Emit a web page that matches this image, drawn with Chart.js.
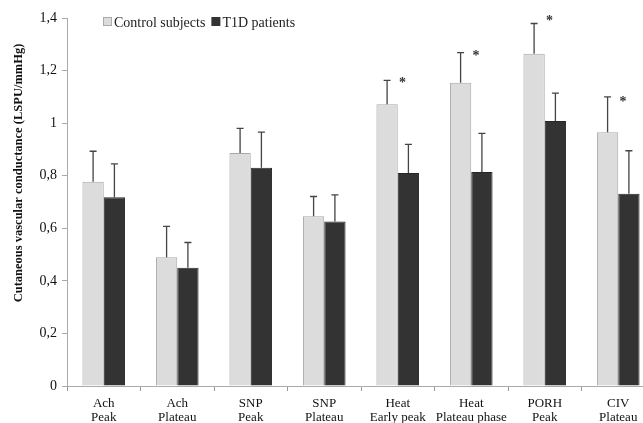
<!DOCTYPE html>
<html>
<head>
<meta charset="utf-8">
<script src="https://cdn.jsdelivr.net/npm/chart.js@4.4.1/dist/chart.umd.min.js"></script>
<style>
body{margin:0;overflow:hidden;background:#fff;}
#caja{width:655px;height:423px;}
</style>
</head>
<body>
<div id="caja"><canvas id="chart" width="655" height="423"></canvas></div>
<script>
var categorias = [["Ach","Peak"],["Ach","Plateau"],["SNP","Peak"],["SNP","Plateau"],["Heat","Early peak"],["Heat","Plateau phase"],["PORH","Peak"],["CIV","Plateau"]];
var control = [0.777, 0.49, 0.886, 0.646, 1.072, 1.154, 1.264, 0.965];
var controlSD = [0.116, 0.117, 0.094, 0.075, 0.091, 0.114, 0.115, 0.135];
var t1d = [0.718, 0.45, 0.83, 0.626, 0.81, 0.814, 1.008, 0.731];
var t1dSD = [0.127, 0.096, 0.136, 0.101, 0.109, 0.147, 0.106, 0.164];
var estrella = [null, null, null, null, 1.168, 1.268, 1.404, 1.094];
var yTicks = [0, 0.2, 0.4, 0.6, 0.8, 1, 1.2, 1.4];
var tituloY = 'Cutaneous vascular conductance (LSPU/mmHg)';

var fuente = "'Liberation Serif', 'Times New Roman', serif";

var pluginExtra = {
	id: 'extra',
	afterDatasetsDraw: function(chart){
		var ctx = chart.ctx;
		var y = chart.scales.y;
		var series = [[control, controlSD], [t1d, t1dSD]];
		ctx.save();
		ctx.strokeStyle = '#444';
		ctx.lineWidth = 1.3;
		for (var s = 0; s < 2; s++) {
			var meta = chart.getDatasetMeta(s);
			for (var i = 0; i < meta.data.length; i++) {
				var bar = meta.data[i];
				var top = y.getPixelForValue(series[s][0][i] + series[s][1][i]);
				ctx.beginPath();
				ctx.moveTo(bar.x, bar.y);
				ctx.lineTo(bar.x, top);
				ctx.moveTo(bar.x - 3.5, top);
				ctx.lineTo(bar.x + 3.5, top);
				ctx.stroke();
			}
		}
		// asteriscos
		ctx.fillStyle = '#333';
		ctx.font = "bold 14px " + fuente;
		ctx.textAlign = 'center';
		ctx.textBaseline = 'middle';
		var meta2 = chart.getDatasetMeta(1);
		for (var k = 0; k < estrella.length; k++) {
			if (estrella[k] == null) continue;
			ctx.fillText('*', meta2.data[k].x - 6, y.getPixelForValue(estrella[k]) + 4);
		}
		// leyenda
		var lx = chart.chartArea.left + 36;
		var ly = 17;
		ctx.font = "14px " + fuente;
		ctx.textAlign = 'left';
		ctx.textBaseline = 'alphabetic';
		ctx.fillStyle = '#dcdcdc';
		ctx.fillRect(lx, ly, 9, 9);
		ctx.strokeStyle = '#aaa';
		ctx.lineWidth = 1;
		ctx.strokeRect(lx + 0.5, ly + 0.5, 8, 8);
		ctx.fillStyle = '#222';
		ctx.fillText('Control subjects', lx + 11, ly + 10);
		var w = ctx.measureText('Control subjects').width;
		var lx2 = lx + 11 + w + 6;
		ctx.fillStyle = '#333';
		ctx.fillRect(lx2, ly, 9, 9);
		ctx.fillStyle = '#222';
		ctx.fillText('T1D patients', lx2 + 11, ly + 10);
		// titulo eje y
		ctx.translate(19, 173);
		ctx.rotate(-Math.PI / 2);
		ctx.font = "bold 12.5px " + fuente;
		ctx.fillStyle = '#111';
		ctx.textAlign = 'center';
		ctx.textBaseline = 'middle';
		ctx.fillText(tituloY, 0, 0);
		ctx.restore();
	}
};

var datos = {
	type: 'bar',
	data: {
		labels: categorias,
		datasets: [{
			label: 'Control subjects',
			data: control,
			backgroundColor: '#dcdcdc',
			borderColor: '#a8a8a8',
			borderWidth: 1,
			borderSkipped: 'bottom'
		}, {
			label: 'T1D patients',
			data: t1d,
			backgroundColor: '#333333',
			borderColor: '#262626',
			borderWidth: 1,
			borderSkipped: 'bottom'
		}]
	},
	options: {
		responsive: false,
		animation: false,
		layout: { padding: { top: 18, right: 0, left: 0, bottom: 0 } },
		plugins: { legend: { display: false }, tooltip: { enabled: false } },
		datasets: { bar: { categoryPercentage: 0.58, barPercentage: 1 } },
		scales: {
			x: {
				grid: { display: true, offset: true, drawOnChartArea: false, tickLength: 5, color: '#999' },
				border: { color: '#aaa' },
				ticks: { color: '#111', font: { family: fuente, size: 13, lineHeight: 1.08 }, maxRotation: 0, autoSkip: false, padding: 6 },
				afterFit: function(scale){ scale.height = 37; }
			},
			y: {
				min: 0,
				max: 1.4,
				afterBuildTicks: function(scale){ scale.ticks = yTicks.map(function(v){ return { value: v }; }); },
				grid: { display: true, drawOnChartArea: false, tickLength: 5, color: '#aaa' },
				border: { color: '#aaa' },
				ticks: {
					color: '#111',
					font: { family: fuente, size: 14 },
					padding: 5,
					callback: function(v){ return String(Math.round(v * 10) / 10).replace('.', ','); }
				},
				afterFit: function(scale){ scale.width = 67; }
			}
		}
	},
	plugins: [pluginExtra]
};

var canvas = document.getElementById('chart').getContext('2d');
window.grafico = new Chart(canvas, datos);
</script>
</body>
</html>
